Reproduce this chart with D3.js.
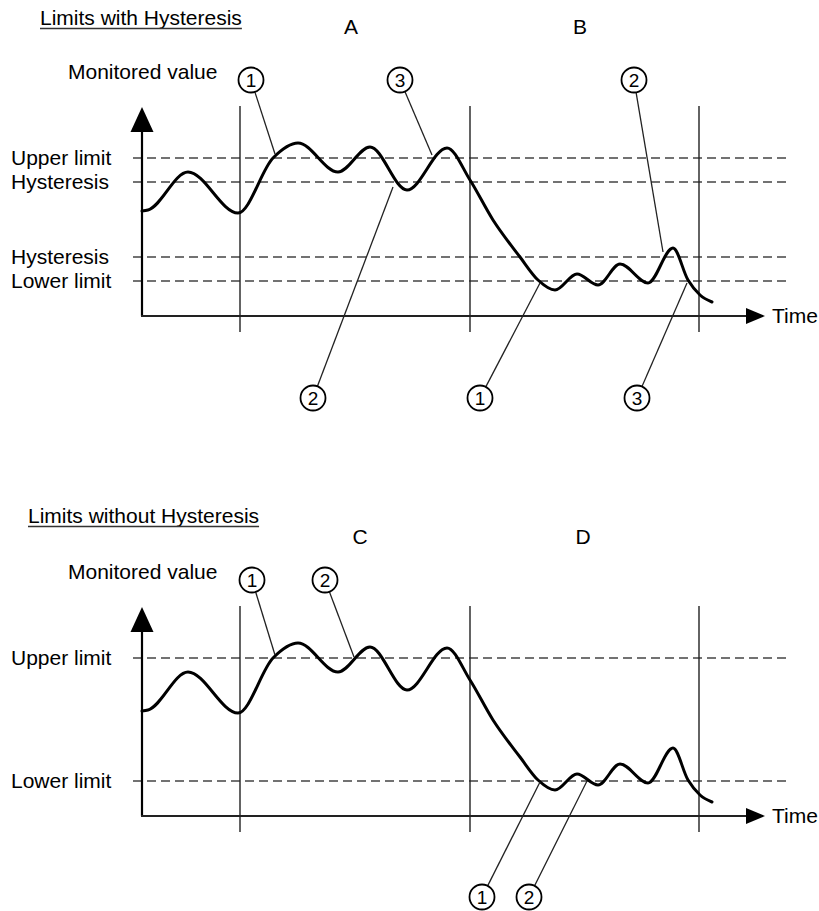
<!DOCTYPE html>
<html>
<head>
  <script src="https://d3js.org/d3.v7.min.js"></script>
  <style>
    body { margin: 0; background: #fff; }
    text { font-family: "Liberation Sans", Arial, sans-serif; fill: #000; }
  </style>
</head>
<body>
  <script>
    // monitored value over time (same signal in both panels)
    const timePoints = [0, 1.2, 9.2, 19.2, 26.2, 31.2, 39.2, 45.6, 53, 61, 65.6, 70.2, 75.6, 79.2, 82.6, 87, 91.2, 95.6, 101.2, 106.2, 109.2, 111.6, 114];
    const values = [52.5, 53, 72, 51.5, 79, 86.5, 72, 84.5, 63, 84, 68, 48, 29.5, 18, 13, 21, 15.5, 26, 16.5, 34, 18, 10.5, 7];

    // vertical period markers
    const boundaries = [19.6, 65.6, 111.4];

    // limit lines
    const hystLimitNames = ["Upper limit", "Hysteresis", "Hysteresis", "Lower limit"];
    const hystLimitValues = [79, 67, 29.5, 17.5];
    const plainLimitNames = ["Upper limit", "Lower limit"];
    const plainLimitValues = [79, 17.5];

    // period letters and where they sit on the time axis
    const hystLetters = ["A", "B"];
    const hystLetterTimes = [41.8, 87.6];
    const plainLetters = ["C", "D"];
    const plainLetterTimes = [43.6, 88.2];

    // callouts: [number, circle time, circle value, curve time, curve value]
    const hystCallouts = [
      ["1", 21.8, 118, 26.6, 81],
      ["3", 51.6, 118, 58, 80.5],
      ["2", 98.4, 118, 104.2, 32],
      ["2", 34.2, -41, 50.2, 64.5],
      ["1", 67.6, -41, 79.6, 16.5],
      ["3", 99, -41, 109, 16.5]
    ];
    const plainCallouts = [
      ["1", 22, 118, 26.6, 80.5],
      ["2", 36.6, 118, 42.4, 79.5],
      ["1", 68, -40.5, 79.6, 17],
      ["2", 77.4, -40.5, 89, 17.5]
    ];

    const W = 819, H = 911;
    const fs = "21px";

    const x = d3.scaleLinear().domain([0, 125]).range([142, 767]);
    const y = d3.scaleLinear().domain([0, 100]).range([316, 116]);

    const svg = d3.select("body").append("svg")
      .attr("width", W)
      .attr("height", H);

    const signal = timePoints.map((t, i) => ({ t: t, v: values[i] }));

    const line = d3.line()
      .x(d => x(d.t))
      .y(d => y(d.v))
      .curve(d3.curveMonotoneX);

    function drawPanel(offset, title, titleX, titleY, limitNames, limitValues, letters, letterTimes, letterY, callouts) {
      const g = svg.append("g").attr("transform", "translate(0," + offset + ")");

      // title, underlined
      const tt = g.append("text")
        .attr("x", titleX)
        .attr("y", titleY)
        .style("font-size", fs)
        .text(title);
      const tw = tt.node().getComputedTextLength();
      g.append("line")
        .attr("x1", titleX).attr("x2", titleX + tw)
        .attr("y1", titleY + 3.5).attr("y2", titleY + 3.5)
        .attr("stroke", "#333").attr("stroke-width", 1.3);

      // period letters
      letters.forEach((l, i) => {
        g.append("text")
          .attr("x", x(letterTimes[i]))
          .attr("y", letterY)
          .attr("text-anchor", "middle")
          .style("font-size", fs)
          .text(l);
      });

      g.append("text")
        .attr("x", 68)
        .attr("y", 79)
        .style("font-size", fs)
        .text("Monitored value");

      // dashed limit lines + labels
      g.selectAll(".limit")
        .data(limitValues)
        .enter()
        .append("line")
        .attr("class", "limit")
        .attr("x1", x(-1.8)).attr("x2", x(129.6))
        .attr("y1", d => y(d)).attr("y2", d => y(d))
        .attr("stroke", "#444")
        .attr("stroke-width", 1.6)
        .attr("stroke-dasharray", "9,5");

      g.selectAll(".limitLabel")
        .data(limitValues)
        .enter()
        .append("text")
        .attr("class", "limitLabel")
        .attr("x", 11)
        .attr("y", d => y(d) + 7)
        .style("font-size", fs)
        .text((d, i) => limitNames[i]);

      // vertical period markers
      g.selectAll(".bound")
        .data(boundaries)
        .enter()
        .append("line")
        .attr("x1", d => x(d)).attr("x2", d => x(d))
        .attr("y1", y(105)).attr("y2", y(-8))
        .attr("stroke", "#222")
        .attr("stroke-width", 1.4);

      // axes with arrow heads
      g.append("line")
        .attr("x1", x(0)).attr("x2", x(0))
        .attr("y1", y(0)).attr("y2", y(94))
        .attr("stroke", "#000").attr("stroke-width", 2.2);
      g.append("path")
        .attr("d", "M" + x(0) + "," + y(104.5) + "L" + (x(0) - 11.5) + "," + y(92) + "L" + (x(0) + 11.5) + "," + y(92) + "Z")
        .attr("fill", "#000");

      g.append("line")
        .attr("x1", x(0) - 1).attr("x2", x(122))
        .attr("y1", y(0)).attr("y2", y(0))
        .attr("stroke", "#222").attr("stroke-width", 2);
      g.append("path")
        .attr("d", "M" + x(124.6) + "," + y(0) + "L" + x(120.8) + "," + (y(0) - 8) + "L" + x(120.8) + "," + (y(0) + 8) + "Z")
        .attr("fill", "#000");

      g.append("text")
        .attr("x", 772)
        .attr("y", y(0) + 7)
        .style("font-size", fs)
        .text("Time");

      // the signal
      g.append("path")
        .datum(signal)
        .attr("d", line)
        .attr("fill", "none")
        .attr("stroke", "#000")
        .attr("stroke-width", 3)
        .attr("stroke-linejoin", "round")
        .attr("stroke-linecap", "round");

      // numbered callouts
      const r = 12.5;
      callouts.forEach(c => {
        const cx = x(c[1]), cy = y(c[2]);
        const tx = x(c[3]), ty = y(c[4]);
        const len = Math.hypot(tx - cx, ty - cy);
        g.append("line")
          .attr("x1", cx + (tx - cx) / len * r).attr("y1", cy + (ty - cy) / len * r)
          .attr("x2", tx).attr("y2", ty)
          .attr("stroke", "#222").attr("stroke-width", 1.3);
        g.append("circle")
          .attr("cx", cx).attr("cy", cy).attr("r", r)
          .attr("fill", "#fff")
          .attr("stroke", "#000").attr("stroke-width", 1.8);
        g.append("text")
          .attr("x", cx).attr("y", cy + 7)
          .attr("text-anchor", "middle")
          .style("font-size", "19px")
          .text(c[0]);
      });
    }

    drawPanel(0, "Limits with Hysteresis", 40, 25, hystLimitNames, hystLimitValues, hystLetters, hystLetterTimes, 34, hystCallouts);
    drawPanel(500, "Limits without Hysteresis", 28, 23, plainLimitNames, plainLimitValues, plainLetters, plainLetterTimes, 44, plainCallouts);
  </script>
</body>
</html>
